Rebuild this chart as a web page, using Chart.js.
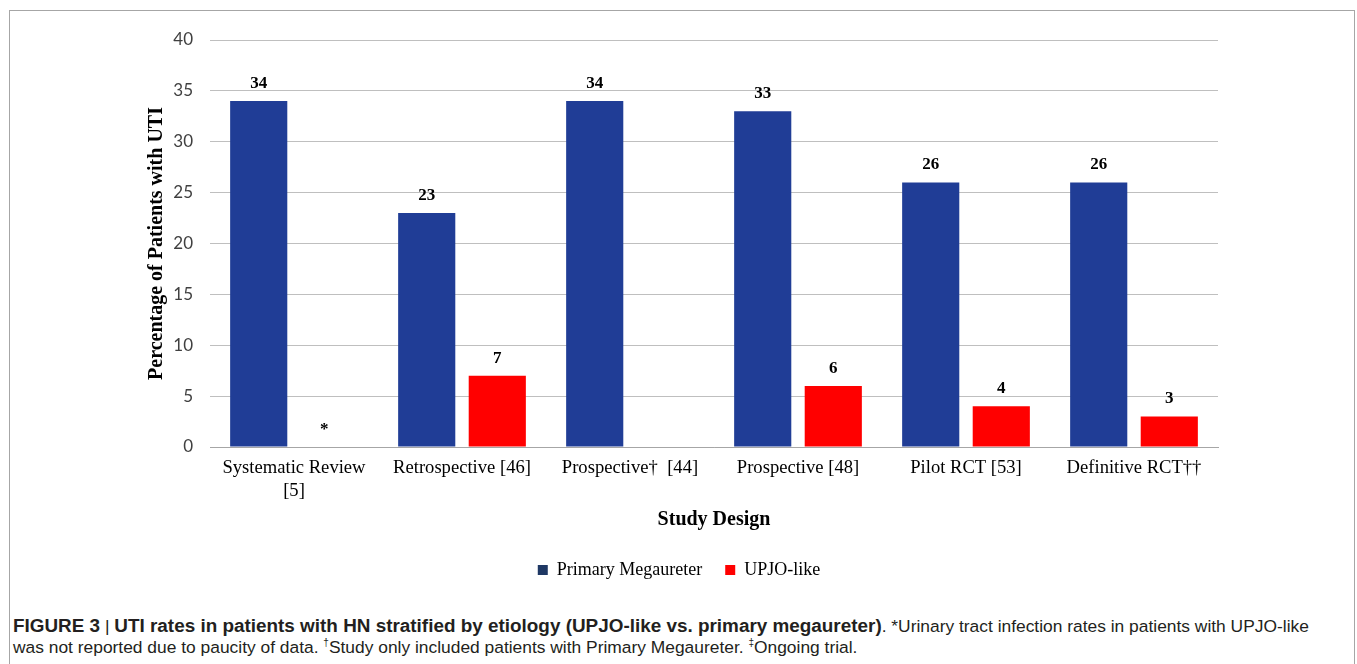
<!DOCTYPE html>
<html>
<head>
<meta charset="utf-8">
<script src="https://cdn.jsdelivr.net/npm/chart.js@4"></script>
<style>
  body { margin: 0; background: #fff; width: 1357px; height: 664px; overflow: hidden; position: relative; }
  #frame { position: absolute; left: 9px; top: 10px; width: 1344px; height: 700px; border: 1px solid #a6a6a6; }
  #wrap { position: absolute; left: 0; top: 0; width: 1357px; height: 589px; }
  #caption { position: absolute; left: 13px; top: 615px; font-family: "Liberation Sans", Arial, sans-serif; font-size: 17.4px; line-height: 21px; color: #231f20; white-space: nowrap; }
  #caption b { font-size: 18.9px; }
  #caption sup { font-size: 10px; line-height: 0; vertical-align: baseline; position: relative; top: -0.7em; }
</style>
</head>
<body>
<div id="frame"></div>
<div id="wrap"><canvas id="chart"></canvas></div>
<div id="caption"><b>FIGURE 3</b> | <b>UTI rates in patients with HN stratified by etiology (UPJO-like vs. primary megaureter)</b>. *Urinary tract infection rates in patients with UPJO-like<br>was not reported due to paucity of data. <sup>†</sup>Study only included patients with Primary Megaureter. <sup>‡</sup>Ongoing trial.</div>
<script>
const categories = [
    ['Systematic Review', '[5]'],
    'Retrospective [46]',
    'Prospective\u2020  [44]',
    'Prospective [48]',
    'Pilot RCT [53]',
    'Definitive RCT\u2020\u2020'
];
const megaureter = [34, 23, 34, 33, 26, 26];
const upjo = [null, 7, null, 6, 4, 3];
const megaureterLabels = ['34', '23', '34', '33', '26', '26'];
const upjoLabels = ['*', '7', '', '6', '4', '3'];
const yTicks = [0, 5, 10, 15, 20, 25, 30, 35, 40];

const serif = '"Liberation Serif", "Times New Roman", serif';

window.addEventListener('load', () => {
    buildUtiChart();
});

const barLabels = {
    id: 'barLabels',
    afterDatasetsDraw(chart) {
        const ctx = chart.ctx;
        const yScale = chart.scales.y;
        ctx.save();
        ctx.font = 'bold 17px ' + serif;
        ctx.fillStyle = '#000';
        ctx.textAlign = 'center';
        ctx.textBaseline = 'bottom';
        chart.data.datasets.forEach((ds, i) => {
            const meta = chart.getDatasetMeta(i);
            meta.data.forEach((bar, j) => {
                const text = ds.valueLabels[j];
                if (!text) return;
                const v = ds.data[j] == null ? 0 : ds.data[j];
                let x = bar.x;
                if (ds.data[j] == null) x -= 5;
                ctx.fillText(text, x, yScale.getPixelForValue(v) - 9);
            });
        });
        ctx.restore();
    }
};

function buildUtiChart() {
    const chartCtx = document.getElementById('chart').getContext('2d');

    new Chart(chartCtx, {
        type: 'bar',
        data: {
            labels: categories,
            datasets: [{
                label: 'Primary Megaureter',
                data: megaureter,
                valueLabels: megaureterLabels,
                backgroundColor: '#203d96',
                categoryPercentage: 0.84,
                barPercentage: 0.81
            },
            {
                label: 'UPJO-like',
                data: upjo,
                valueLabels: upjoLabels,
                backgroundColor: '#ff0000',
                categoryPercentage: 0.84,
                barPercentage: 0.81
            }]
        },
        plugins: [barLabels],
        options: {
            responsive: true,
            maintainAspectRatio: false,
            animation: false,
            layout: {
                padding: { left: 140, right: 139, top: 40, bottom: 0 }
            },
            plugins: {
                tooltip: { enabled: false },
                legend: {
                    position: 'bottom',
                    labels: {
                        boxWidth: 10,
                        boxHeight: 10,
                        padding: 23,
                        color: '#000',
                        font: { family: serif, size: 18 },
                        generateLabels(chart) {
                            const fills = ['#1f3864', '#ff0000'];
                            return chart.data.datasets.map((ds, i) => ({
                                text: ds.label,
                                fillStyle: fills[i],
                                strokeStyle: fills[i],
                                lineWidth: 0,
                                datasetIndex: i,
                                fontColor: '#000'
                            }));
                        }
                    }
                }
            },
            scales: {
                x: {
                    grid: { display: false, drawTicks: false },
                    border: { color: '#a6a6a6', width: 1 },
                    ticks: {
                        color: '#000',
                        padding: 10,
                        maxRotation: 0,
                        font: { family: serif, size: 18.6, lineHeight: 1.24 }
                    },
                    title: {
                        display: true,
                        text: 'Study Design',
                        color: '#000',
                        padding: { top: 0, bottom: 6 },
                        font: { family: serif, size: 20, weight: 'bold' }
                    },
                    afterFit(scale) { scale.height = 91; }
                },
                y: {
                    min: 0,
                    max: 40,
                    afterBuildTicks(scale) { scale.ticks = yTicks.map(v => ({ value: v })); },
                    grid: { color: '#bfbfbf', drawTicks: false },
                    border: { display: false },
                    ticks: {
                        color: '#404040',
                        padding: 17,
                        font: { family: 'Lato, "Open Sans", sans-serif', size: 17 }
                    },
                    title: {
                        display: true,
                        text: 'Percentage of Patients with UTI',
                        color: '#000',
                        padding: { top: 5, bottom: 0 },
                        font: { family: serif, size: 20, weight: 'bold' }
                    },
                    afterFit(scale) { scale.width = 70; }
                }
            }
        }
    });
}
</script>
</body>
</html>
